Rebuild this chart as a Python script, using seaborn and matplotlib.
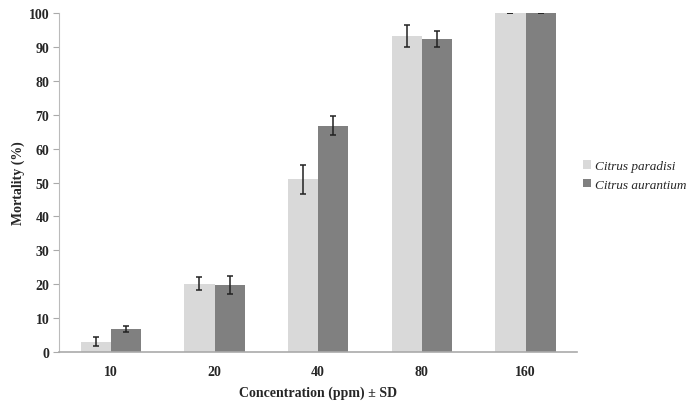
import matplotlib
matplotlib.use("Agg")
import matplotlib.pyplot as plt
import numpy as np
import pandas as pd
import seaborn as sns

# Data
concentrations = ["10", "20", "40", "80", "160"]
species = ["Citrus paradisi", "Citrus aurantium"]
paradisi_mean = [3.0, 20.2, 51.0, 93.2, 100.0]
paradisi_sd = [1.3, 1.8, 4.3, 3.3, 0.0]
aurantium_mean = [6.8, 19.8, 66.8, 92.4, 100.0]
aurantium_sd = [0.8, 2.6, 2.8, 2.3, 0.0]
colors = ["#d9d9d9", "#808080"]

df = pd.DataFrame({
    "conc": concentrations * 2,
    "species": [species[0]] * 5 + [species[1]] * 5,
    "mortality": paradisi_mean + aurantium_mean,
    "sd": paradisi_sd + aurantium_sd,
})

sns.set_style("white")
plt.rcParams["font.family"] = ["Liberation Serif", "DejaVu Serif"]

fig = plt.figure(figsize=(6.92, 4.06), dpi=100)
ax = fig.add_axes([0.0853, 0.1305, 0.749, 0.835])

sns.barplot(data=df, x="conc", y="mortality", hue="species", order=concentrations,
            hue_order=species, palette=colors, width=0.58, errorbar=None,
            saturation=1, linewidth=0, ax=ax, legend=True)

# error bars at bar centres, in the order seaborn drew them
bars = [p for p in ax.patches if p.get_height() > 0][:10]
for bar, (_, row) in zip(bars, df.iterrows()):
    ax.errorbar(bar.get_x() + bar.get_width() / 2, row["mortality"], yerr=row["sd"],
                fmt="none", ecolor="#222222", elinewidth=1.1, capsize=2.5, capthick=1.1)

ax.set_ylim(0, 100)
ax.set_xlim(-0.5, 4.5)
ax.set_yticks(np.arange(0, 101, 10))
ax.tick_params(axis="y", which="both", left=True, length=4, width=0.8, color="#aaaaaa",
               labelsize=10, pad=3)
ax.tick_params(axis="x", bottom=False, labelsize=10, pad=6)
for lab in ax.get_xticklabels() + ax.get_yticklabels():
    lab.set_fontweight("bold")

for side in ["top", "right"]:
    ax.spines[side].set_visible(False)
ax.spines["left"].set_color("#bbbbbb")
ax.spines["bottom"].set_color("#aaaaaa")
ax.spines["bottom"].set_linewidth(1.2)

ax.set_xlabel("Concentration (ppm) ± SD", fontsize=10, fontweight="bold", labelpad=5)
ax.set_ylabel("Mortality (%)", fontsize=10, fontweight="bold", labelpad=3)

handles, labels = ax.get_legend_handles_labels()
ax.legend(handles, labels, loc="center left", bbox_to_anchor=(0.843, 0.565),
          bbox_transform=fig.transFigure, frameon=False, borderpad=0,
          borderaxespad=0, handlelength=0.6, handleheight=0.6, handletextpad=0.3,
          labelspacing=0.5,
          prop={"family": "Liberation Serif", "style": "italic", "size": 9.5})

fig.savefig("out.png", dpi=100)
